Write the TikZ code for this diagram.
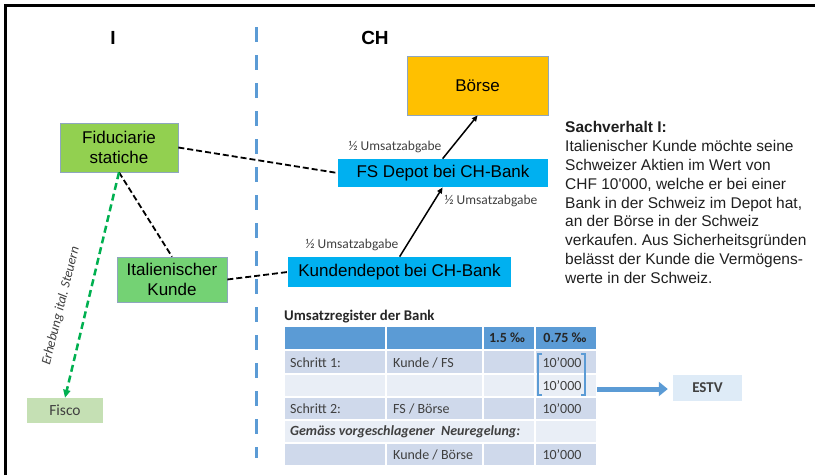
\documentclass[tikz,border=0pt]{standalone}
\usepackage{fontspec}
\setmainfont{Liberation Sans}
\newfontfamily\calfont{Carlito}
\usetikzlibrary{arrows.meta}
\frenchspacing
\definecolor{dashblue}{HTML}{5B9BD5}
\definecolor{boerse}{HTML}{FFC000}
\definecolor{fidgreen}{HTML}{92D050}
\definecolor{kundegreen}{HTML}{74D274}
\definecolor{chblue}{HTML}{00B0F0}
\definecolor{fiscogreen}{HTML}{C5E0B4}
\definecolor{estvblue}{HTML}{DEEBF7}
\definecolor{rowa}{HTML}{CFD9EB}
\definecolor{rowb}{HTML}{E9EEF6}
\definecolor{arrgreen}{HTML}{00B050}
\definecolor{txtgray}{HTML}{404040}
\definecolor{boxline}{HTML}{8EA6BF}
\tikzset{
  box/.style={draw=boxline, line width=0.7pt, inner sep=0pt, align=center, font=\fontsize{17}{20}\selectfont},
  plainbox/.style={inner sep=0pt, align=center},
  blackdash/.style={line width=1.8pt, dash pattern=on 6pt off 3pt},
  flowarrow/.style={line width=1.5pt, -{Triangle[length=6pt,width=5pt]}},
  smalllabel/.style={font=\calfont\fontsize{13.5}{15}\selectfont, text=txtgray, inner sep=0pt},
  tabtext/.style={font=\calfont\fontsize{14}{16}\selectfont, text=txtgray, inner sep=0pt},
  cell/.style={draw=white, line width=1.5pt},
  heading/.style={font=\bfseries\fontsize{19}{22}\selectfont, inner sep=0pt}
}
\begin{document}
\begin{tikzpicture}[x=1pt,y=-1pt]
\useasboundingbox (0,0) rectangle (815,475);
% frame
\draw[line width=2.5pt] (5.3,475) -- (5.3,5.3) -- (815,5.3);
% headings
\node[heading] (hI) at (113,38) {I};
\node[heading] (hCH) at (375,38) {CH};
% border line
\draw[dashblue, line width=3pt, dash pattern=on 15pt off 13pt] (256,27) -- (256,458);
% boxes
\node[box, fill=boerse, minimum width=141pt, minimum height=59pt] (boerse) at (477.5,85.5) {Börse};
\node[box, fill=fidgreen, minimum width=118pt, minimum height=49pt] (fid) at (119,147.5) {Fiduciarie\\statiche};
\node[box, fill=chblue, draw=none, minimum width=210pt, minimum height=28pt] (fs) at (443,173) {FS Depot bei CH-Bank};
\node[box, fill=chblue, draw=none, minimum width=223pt, minimum height=30pt] (kd) at (399.5,272) {Kundendepot bei CH-Bank};
\node[box, fill=kundegreen, minimum width=110pt, minimum height=45pt] (ik) at (172,279.5) {Italienischer\\Kunde};
\node[plainbox, fill=fiscogreen, minimum width=76pt, minimum height=25pt, font=\calfont\fontsize{15.5}{17}\selectfont, text=txtgray] (fisco) at (65,410.5) {Fisco};
\node[plainbox, fill=estvblue, minimum width=69pt, minimum height=26pt, font=\calfont\bfseries\fontsize{15}{17}\selectfont, text=txtgray] (estv) at (707.5,388) {ESTV};
% connectors
\draw[blackdash] (fid.east) -- (fs.west);
\draw[blackdash] (fid.south) -- (ik.north);
\draw[blackdash] (ik.east) -- (kd.west);
\draw[arrgreen, line width=2.5pt, dash pattern=on 7pt off 4pt, -{Triangle[length=8pt,width=7pt]}] (fid.south) -- (fisco.north);
\node[rotate=76, font=\calfont\itshape\fontsize{13.5}{15}\selectfont, text=txtgray, inner sep=0pt] (erh) at (61,306) {Erhebung ital. Steuern};
\draw[flowarrow] ([xshift=112pt]kd.north west) -- ([xshift=105pt]fs.south west);
\draw[flowarrow] ([xshift=105pt]fs.north west) -- ([xshift=71pt]boerse.south west);
\node[smalllabel] (l1) at (395,147) {½ Umsatzabgabe};
\node[smalllabel] (l2) at (491,201) {½ Umsatzabgabe};
\node[smalllabel] (l3) at (352,245) {½ Umsatzabgabe};
% Sachverhalt
\node[anchor=north west, align=left, inner sep=0pt, text=black!88, font=\fontsize{15.5}{18.9}\selectfont] (sach) at (565,121) {\textbf{Sachverhalt I:}\\Italienischer Kunde möchte seine\\Schweizer Aktien im Wert von\\CHF 10\textquotesingle000, welche er bei einer\\Bank in der Schweiz im Depot hat,\\an der Börse in der Schweiz\\verkaufen. Aus Sicherheitsgründen\\belässt der Kunde die Vermögens-\\werte in der Schweiz.};
% table
\node[tabtext, font=\calfont\bfseries\fontsize{14.8}{16}\selectfont, text=black!85, anchor=west] (ttitle) at (284,317) {Umsatzregister der Bank};
\foreach \xa/\xb in {284/386,386/483,483/535,535/597}{
  \fill[dashblue, cell] (\xa,326) rectangle (\xb,350);
  \fill[rowa, cell] (\xa,350) rectangle (\xb,374);
  \fill[rowb, cell] (\xa,374) rectangle (\xb,397);
  \fill[rowa, cell] (\xa,397) rectangle (\xb,420);
  \fill[rowa, cell] (\xa,443) rectangle (\xb,466);
}
\fill[rowb, cell] (284,420) rectangle (535,443);
\fill[rowb, cell] (535,420) rectangle (597,443);
\node[tabtext, font=\calfont\bfseries\fontsize{14}{16}\selectfont, text=black!85] (h1) at (507,338) {1.5 ‰};
\node[tabtext, font=\calfont\bfseries\fontsize{14}{16}\selectfont, text=black!85] (h2) at (565,338) {0.75 ‰};
\node[tabtext, anchor=west] (s1) at (290,363) {Schritt 1:};
\node[tabtext, anchor=west] (k1) at (393,363) {Kunde / FS};
\node[tabtext] (v1) at (562,363) {10’000};
\node[tabtext] (v2) at (562,385.5) {10’000};
\node[tabtext, anchor=west] (s2) at (290,408.5) {Schritt 2:};
\node[tabtext, anchor=west] (k2) at (393,408.5) {FS / Börse};
\node[tabtext] (v3) at (562,408.5) {10’000};
\node[tabtext, font=\calfont\bfseries\itshape\fontsize{14}{16}\selectfont, anchor=west] (neu) at (290,431.5) {Gemäss vorgeschlagener\ \ Neuregelung:};
\node[tabtext, anchor=west] (k3) at (393,454.5) {Kunde / Börse};
\node[tabtext] (v4) at (562,454.5) {10’000};
% bracket
\draw[dashblue, line width=1.2pt] (542,354) -- (538,354) -- (538,395) -- (542,395);
\draw[dashblue, line width=1.2pt] (581,354) -- (585,354) -- (585,395) -- (581,395);
% block arrow
\coordinate (tabr) at (597,389);
\draw[dashblue, line width=5pt, shorten >=5pt, -{Triangle[length=9pt,width=14pt]}] (tabr) -- (estv.west |- tabr);
\end{tikzpicture}
\end{document}
